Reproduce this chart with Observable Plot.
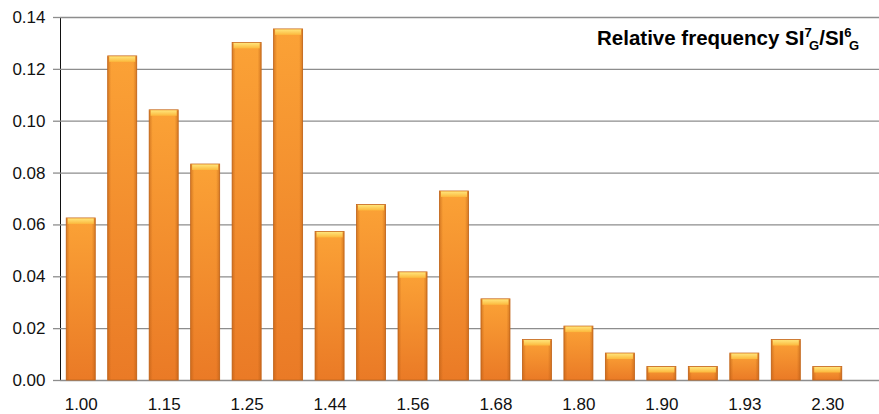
<!DOCTYPE html>
<html>
<head>
<meta charset="utf-8">
<script src="https://cdn.jsdelivr.net/npm/d3@7"></script>
<script src="https://cdn.jsdelivr.net/npm/@observablehq/plot@0.6"></script>
<style>
  html, body { margin: 0; padding: 0; background: #fff; }
  #chart { width: 879px; height: 414px; }
</style>
</head>
<body>
<div id="chart"></div>
<script>
// Bin labels along the x axis (every other bin is labelled)
const binLabels = ["1.00", "", "1.15", "", "1.25", "", "1.44", "", "1.56", "",
                   "1.68", "", "1.80", "", "1.90", "", "1.93", "", "2.30"];
// Relative frequency of each bin
const freq = [0.0625, 0.1250, 0.1042, 0.0833, 0.1302, 0.1354, 0.0573, 0.0677, 0.0417, 0.0729,
              0.0313, 0.0156, 0.0208, 0.0104, 0.0052, 0.0052, 0.0104, 0.0156, 0.0052];
// Value-axis ticks
const yTicks = [0, 0.02, 0.04, 0.06, 0.08, 0.10, 0.12, 0.14];

const data = freq.map((v, i) => ({i, v}));
const gridColor = "#8d8d8d";

const chart = Plot.plot({
  width: 879,
  height: 414,
  marginLeft: 60,
  marginRight: 31,
  marginTop: 17,
  marginBottom: 34,
  style: {
    fontFamily: "'Liberation Sans', Arial, Helvetica, sans-serif",
    fontSize: "17px",
    color: "#111",
    background: "#fff",
    overflow: "visible"
  },
  x: {
    domain: d3.range(freq.length),
    paddingInner: 0.3,
    paddingOuter: 0.15,
    round: false,
    tickFormat: i => binLabels[i],
    tickSize: 0,
    tickPadding: 17,
    label: null
  },
  y: {
    domain: [0, 0.14],
    ticks: yTicks,
    tickFormat: d3.format(".2f"),
    tickSize: 7,
    tickPadding: 8,
    line: true,
    label: null
  },
  marks: [
    Plot.ruleY(yTicks, {stroke: gridColor, strokeWidth: 1.3, insetRight: -31}),
    // bar body
    Plot.barY(data, {x: "i", y: "v", fill: "url(#barBody)", stroke: "#c2661c", strokeWidth: 0.8, ariaLabel: "bar-body"}),
    // side shading
    Plot.barY(data, {x: "i", y: "v", fill: "url(#barSides)", insetTop: 1, ariaLabel: "bar-sides"}),
    // bevelled top cap
    Plot.barY(data, {x: "i", y1: "v", y2: "v", insetLeft: 1.5, insetRight: 1.5, insetTop: 0.5, insetBottom: -6, fill: "url(#barCap)", ariaLabel: "bar-cap"})
  ]
});

document.getElementById("chart").appendChild(chart);

const svg = d3.select(chart);
const defs = svg.insert("defs", ":first-child");

const body = defs.append("linearGradient").attr("id", "barBody")
  .attr("x1", 0).attr("y1", 0).attr("x2", 0).attr("y2", 1);
body.append("stop").attr("offset", "0%").attr("stop-color", "#fba236");
body.append("stop").attr("offset", "100%").attr("stop-color", "#ea7a26");

const sides = defs.append("linearGradient").attr("id", "barSides")
  .attr("x1", 0).attr("y1", 0).attr("x2", 1).attr("y2", 0);
sides.append("stop").attr("offset", "0%").attr("stop-color", "#b85c14").attr("stop-opacity", 0.55);
sides.append("stop").attr("offset", "12%").attr("stop-color", "#b85c14").attr("stop-opacity", 0.0);
sides.append("stop").attr("offset", "88%").attr("stop-color", "#b85c14").attr("stop-opacity", 0.0);
sides.append("stop").attr("offset", "100%").attr("stop-color", "#b85c14").attr("stop-opacity", 0.55);

const cap = defs.append("linearGradient").attr("id", "barCap")
  .attr("x1", 0).attr("y1", 0).attr("x2", 0).attr("y2", 1);
cap.append("stop").attr("offset", "0%").attr("stop-color", "#ffe57a");
cap.append("stop").attr("offset", "100%").attr("stop-color", "#fcb83c");

svg.selectAll("g[aria-label='bar-body']")
  .style("filter", "drop-shadow(1px 1px 1px rgba(0,0,0,0.35))");

// soften axis line and tick marks to the gridline grey
svg.selectAll("g[aria-label='y-axis'] line, g[aria-label='y-axis'] path")
  .attr("stroke", gridColor).attr("stroke-width", 1.3);
svg.selectAll("g[aria-label='y-axis tick'] path, g[aria-label='y-axis tick'] line")
  .attr("stroke", gridColor).attr("stroke-width", 1.3);
svg.selectAll("g[aria-label='y-axis'], g[aria-label='y-axis tick']")
  .attr("stroke", gridColor);

// series description in the upper right
const title = svg.append("text")
  .attr("x", 597).attr("y", 45)
  .attr("text-anchor", "start")
  .attr("font-weight", "bold")
  .attr("font-size", 20.5)
  .attr("fill", "#000");
title.append("tspan").text("Relative frequency SI");
title.append("tspan").attr("font-size", 13).attr("dy", -8.5).text("7");
title.append("tspan").attr("font-size", 13).attr("dx", -2.5).attr("dy", 13).text("G");
title.append("tspan").attr("dy", -4.5).text("/SI");
title.append("tspan").attr("font-size", 13).attr("dy", -8.5).text("6");
title.append("tspan").attr("font-size", 13).attr("dx", -2.5).attr("dy", 13).text("G");
</script>
</body>
</html>
